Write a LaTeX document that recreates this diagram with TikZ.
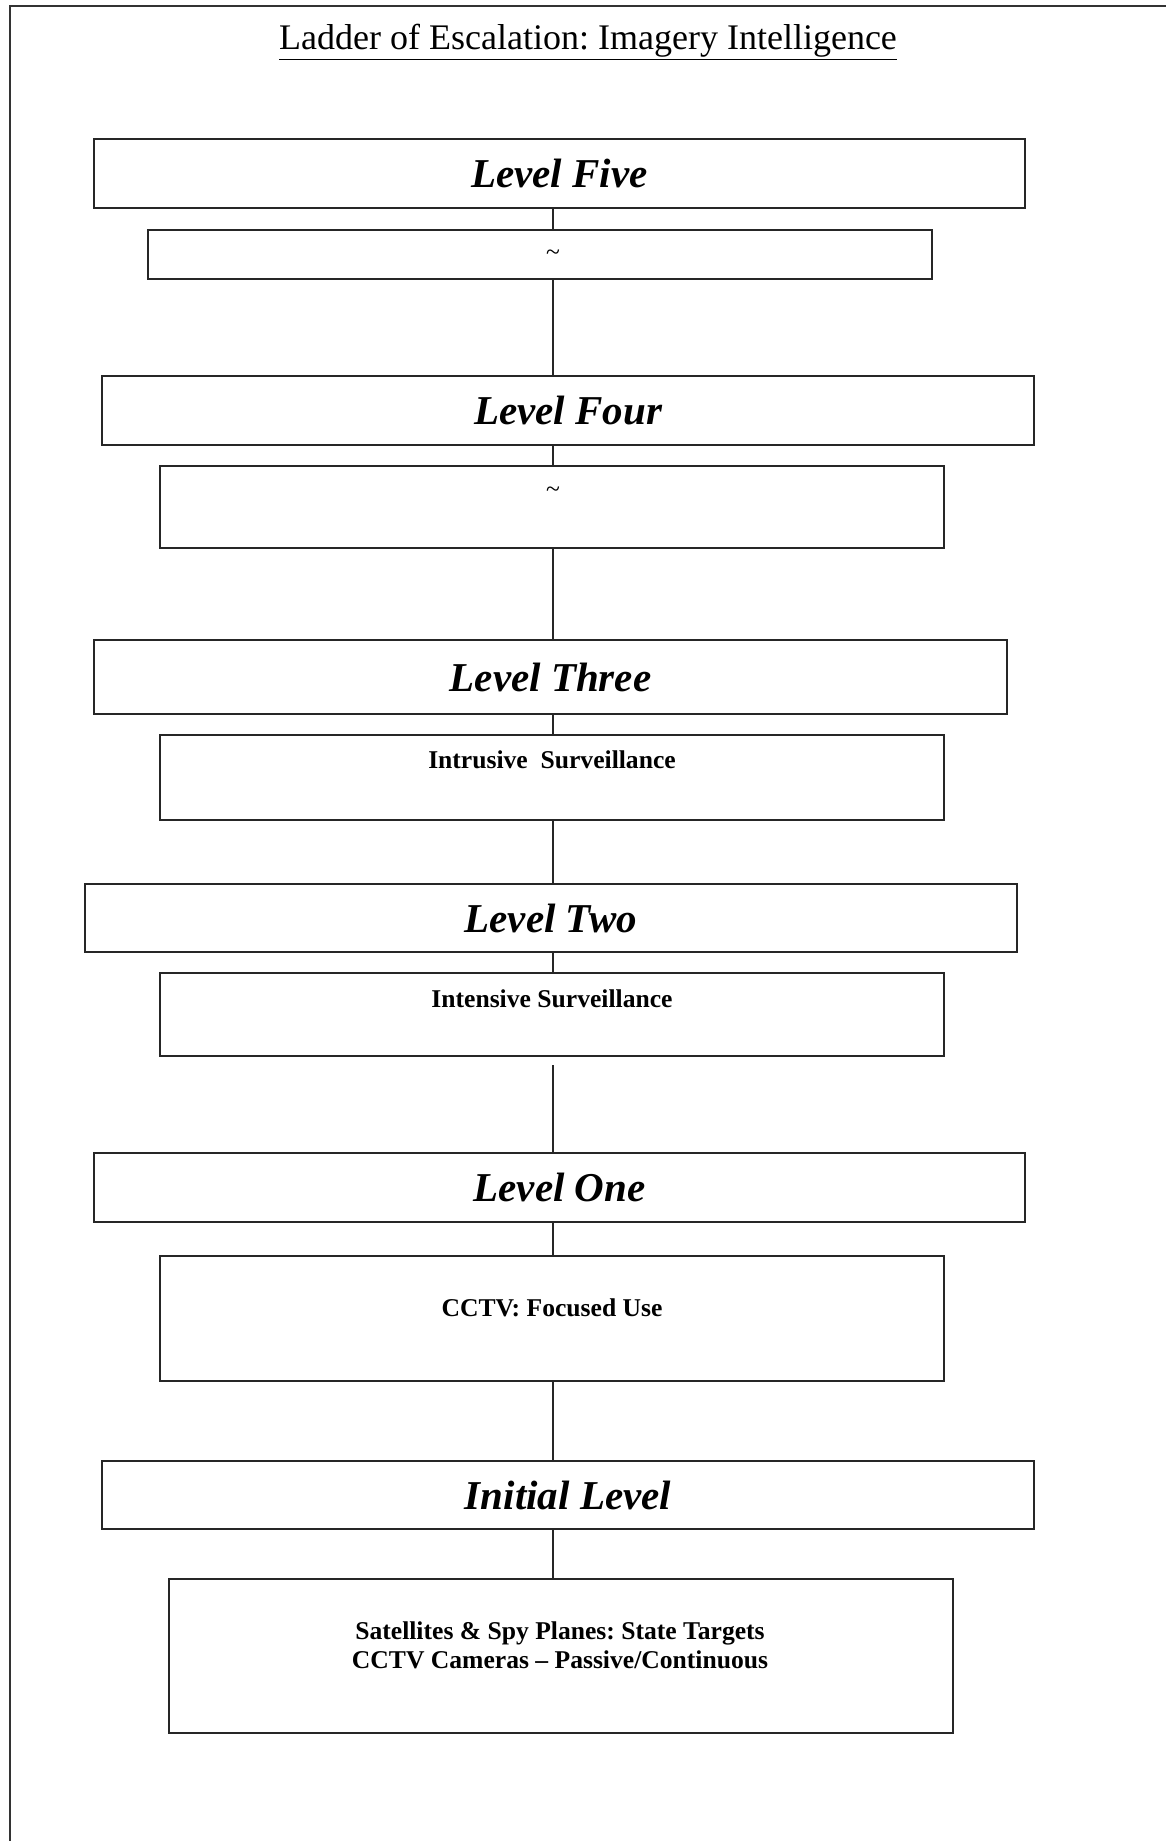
\documentclass[tikz,border=0pt]{standalone}
\usepackage{fontspec}
\setmainfont{Liberation Serif}
\frenchspacing
\begin{document}
\begin{tikzpicture}[x=1pt,y=-1pt,
  box/.style={draw=black!85, line width=1.5pt, inner sep=0pt, outer sep=0pt, anchor=north west},
  lvltext/.style={inner sep=0pt, font=\fontsize{41}{49}\selectfont\bfseries\itshape},
  bodytext/.style={inner sep=0pt, align=center, font=\fontsize{25.6}{29.5}\selectfont\bfseries},
  tildetext/.style={inner sep=0pt, font=\fontsize{25.6}{29.5}\selectfont},
  conn/.style={draw=black!85, line width=1.2pt},
  frame/.style={draw=black!80, line width=2pt}]
\useasboundingbox (0,0) rectangle (1166,1841);
\fill[white] (0,0) rectangle (1166,1841);
% outer frame (top and left edges)
\coordinate (fbl) at (9.5,1841);
\coordinate (ftl) at (9.5,6.5);
\coordinate (ftr) at (1166,6.5);
\draw[frame] (fbl) -- (ftl) -- (ftr);
% title
\node[anchor=base, inner sep=0pt, font=\fontsize{36}{43}\selectfont] (title) at (588,50) {\underline{Ladder of Escalation: Imagery Intelligence}};
% connector axis
\coordinate (cx) at (553,0);
% boxes
\node[box, minimum width=931pt, minimum height=69pt] (L5) at (94,139) {};
\node[box, minimum width=784pt, minimum height=49pt] (T5) at (148,230) {};
\node[box, minimum width=932pt, minimum height=69pt] (L4) at (102,376) {};
\node[box, minimum width=784pt, minimum height=82pt] (T4) at (160,466) {};
\node[box, minimum width=913pt, minimum height=74pt] (L3) at (94,640) {};
\node[box, minimum width=784pt, minimum height=85pt] (T3) at (160,735) {};
\node[box, minimum width=932pt, minimum height=68pt] (L2) at (85,884) {};
\node[box, minimum width=784pt, minimum height=83pt] (T2) at (160,973) {};
\node[box, minimum width=931pt, minimum height=69pt] (L1) at (94,1153) {};
\node[box, minimum width=784pt, minimum height=125pt] (T1) at (160,1256) {};
\node[box, minimum width=932pt, minimum height=68pt] (L0) at (102,1461) {};
\node[box, minimum width=784pt, minimum height=154pt] (T0) at (169,1579) {};
% level labels
\node[lvltext] (L5t) at (L5.center) {Level Five};
\node[lvltext] (L4t) at (L4.center) {Level Four};
\node[lvltext] (L3t) at (L3.center) {Level Three};
\node[lvltext] (L2t) at (L2.center) {Level Two};
\node[lvltext] (L1t) at (L1.center) {Level One};
\node[lvltext] (L0t) at (L0.center) {Initial Level};
% contents
\node[tildetext] (T5t) at ([yshift=-25pt]T5.north -| cx) {\symbol{126}};
\node[tildetext] (T4t) at ([yshift=-26pt]T4.north -| cx) {\symbol{126}};
\node[bodytext] (T3t) at ([yshift=-25pt]T3.north) {Intrusive\ \ Surveillance};
\node[bodytext] (T2t) at ([yshift=-26pt]T2.north) {Intensive Surveillance};
\node[bodytext] (T1t) at ([yshift=-52pt]T1.north) {CCTV: Focused Use};
\node[bodytext] (T0t) at ([xshift=-1pt,yshift=-66.5pt]T0.north) {Satellites \& Spy Planes: State Targets\\CCTV Cameras -- Passive/Continuous};
% connectors
\draw[conn] (L5.south -| cx) -- (T5.north -| cx);
\draw[conn] (T5.south -| cx) -- (L4.north -| cx);
\draw[conn] (L4.south -| cx) -- (T4.north -| cx);
\draw[conn] (T4.south -| cx) -- (L3.north -| cx);
\draw[conn] (L3.south -| cx) -- (T3.north -| cx);
\draw[conn] (T3.south -| cx) -- (L2.north -| cx);
\draw[conn] (L2.south -| cx) -- (T2.north -| cx);
\draw[conn] ([yshift=-9pt]T2.south -| cx) -- (L1.north -| cx);
\draw[conn] (L1.south -| cx) -- (T1.north -| cx);
\draw[conn] (T1.south -| cx) -- (L0.north -| cx);
\draw[conn] (L0.south -| cx) -- (T0.north -| cx);
\end{tikzpicture}
\end{document}
